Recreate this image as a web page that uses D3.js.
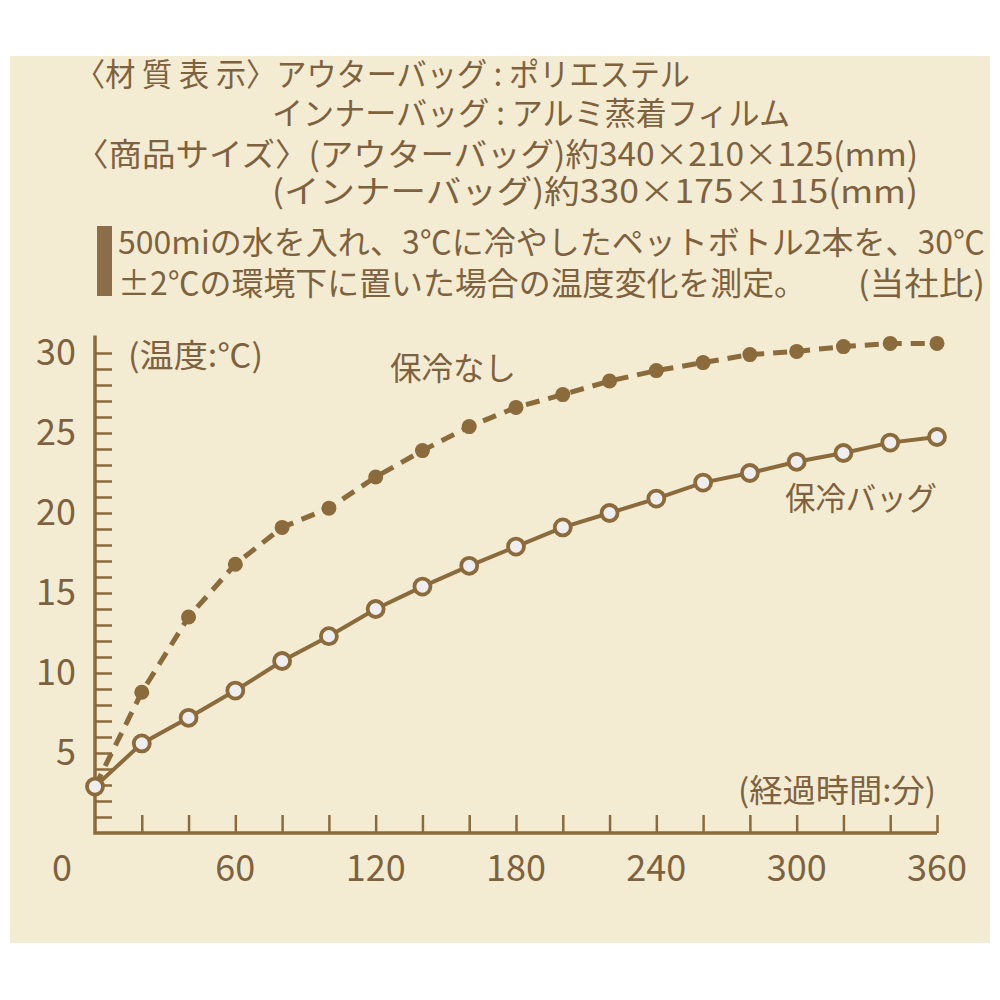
<!DOCTYPE html>
<html><head><meta charset="utf-8">
<script src="https://cdn.jsdelivr.net/npm/d3@7"></script>
<style>html,body{margin:0;padding:0;background:#fff;}svg{display:block;}</style>
</head><body>
<script>
const minutes = [0,20,40,60,80,100,120,140,160,180,200,220,240,260,280,300,320,340,360];
const bagTemps = [2.9,5.6,7.2,8.9,10.75,12.3,14.0,15.4,16.7,17.9,19.1,20.0,20.9,21.9,22.5,23.2,23.75,24.4,24.75];
const noBagTemps = [2.9,8.8,13.5,16.8,19.1,20.3,22.25,23.9,25.4,26.6,27.4,28.25,28.9,29.4,29.9,30.1,30.4,30.6,30.6];
const yTickLabels = [5,10,15,20,25,30];
const xTickLabels = [60,120,180,240,300,360];
const xMinorTicks = d3.range(20,361,20);
const yMinorTicks = d3.range(1,31,1);
const headerLines = [
  {t:"〈材 質 表 示〉アウターバッグ : ポリエステル", x:75, y:86, w:615},
  {t:"インナーバッグ : アルミ蒸着フィルム", x:272, y:125, w:518},
  {t:"〈商品サイズ〉(アウターバッグ)約340×210×125(mm)", x:75, y:166, w:843},
  {t:"(インナーバッグ)約330×175×115(mm)", x:272, y:203, w:646}
];
const noteLines = [
  {t:"500miの水を入れ、3℃に冷やしたペットボトル2本を、30℃", x:118, y:254, w:867},
  {t:"±2℃の環境下に置いた場合の温度変化を測定。", x:118, y:295, w:688},
  {t:"(当社比)", x:858, y:295, w:127}
];

const W=1000,H=1000;
const brown="#8b6a3c", textC="#7e6240", cream="#f3ecd3";
const svg=d3.select("body").append("svg").attr("width",W).attr("height",H);
svg.append("rect").attr("x",10).attr("y",56).attr("width",980).attr("height",887).attr("fill",cream);

const font="'Noto Sans CJK JP','Noto Sans',sans-serif";
function lines(arr,size){
  svg.append("g").selectAll("text").data(arr).join("text")
    .attr("x",d=>d.x).attr("y",d=>d.y).text(d=>d.t)
    .attr("textLength",d=>d.w).attr("lengthAdjust","spacingAndGlyphs")
    .attr("font-family",font).attr("font-size",size).attr("fill",textC);
}
lines(headerLines,32);
lines(noteLines,32);
svg.append("rect").attr("x",97).attr("y",226).attr("width",15).attr("height",70).attr("fill","#8b6e48");

const x=d3.scaleLinear().domain([0,360]).range([95,937]);
const y=d3.scaleLinear().domain([0,30]).range([833,353]);

// axes
const gx=svg.append("g").attr("transform",`translate(0,${y(0)})`)
  .call(d3.axisTop(x).tickValues(xMinorTicks).tickSize(18).tickSizeOuter(0).tickFormat(""));
gx.select(".domain").remove();
gx.selectAll("line").attr("stroke",brown).attr("stroke-width",2.5);
const gy=svg.append("g").attr("transform",`translate(${x(0)},0)`)
  .call(d3.axisRight(y).tickValues(yMinorTicks).tickSize(17).tickSizeOuter(0).tickFormat(""));
gy.select(".domain").remove();
gy.selectAll("line").attr("stroke",brown).attr("stroke-width",2.5);
svg.append("path").attr("d",`M${x(0)},${y(31.1)}V${y(0)}H${x(360)}`)
  .attr("fill","none").attr("stroke",brown).attr("stroke-width",3.5);

// tick labels
svg.append("g").selectAll("text").data(yTickLabels).join("text")
  .attr("x",76).attr("y",d=>y(d)+12).attr("text-anchor","end").text(d=>d)
  .attr("font-family",font).attr("font-size",36).attr("fill",textC);
svg.append("g").selectAll("text").data(xTickLabels).join("text")
  .attr("x",d=>x(d)).attr("y",881).attr("text-anchor","middle").text(d=>d)
  .attr("font-family",font).attr("font-size",36).attr("fill",textC);
svg.append("text").attr("x",62).attr("y",881).attr("text-anchor","middle").text("0")
  .attr("font-family",font).attr("font-size",36).attr("fill",textC);

// labels
const labs=[
  {t:"(温度:℃)",x:128,y:367,w:135},
  {t:"保冷なし",x:390,y:380,w:126},
  {t:"保冷バッグ",x:785,y:510,w:152},
  {t:"(経過時間:分)",x:738,y:802,w:198}
];
lines(labs,32);

// lines
const line=d3.line().x(d=>x(d[0])).y(d=>y(d[1]));
const noBag=minutes.map((m,i)=>[m,noBagTemps[i]]);
const bag=minutes.map((m,i)=>[m,bagTemps[i]]);
svg.append("path").datum(noBag).attr("d",line).attr("fill","none")
  .attr("stroke",brown).attr("stroke-width",5).attr("stroke-dasharray","14,9");
svg.append("g").selectAll("circle").data(noBag.slice(1)).join("circle")
  .attr("cx",d=>x(d[0])).attr("cy",d=>y(d[1])).attr("r",7.5).attr("fill",brown);
svg.append("path").datum(bag).attr("d",line).attr("fill","none")
  .attr("stroke",brown).attr("stroke-width",4);
svg.append("g").selectAll("circle").data(bag).join("circle")
  .attr("cx",d=>x(d[0])).attr("cy",d=>y(d[1])).attr("r",8)
  .attr("fill","#efedee").attr("stroke",brown).attr("stroke-width",3.8);
</script>
</body></html>
